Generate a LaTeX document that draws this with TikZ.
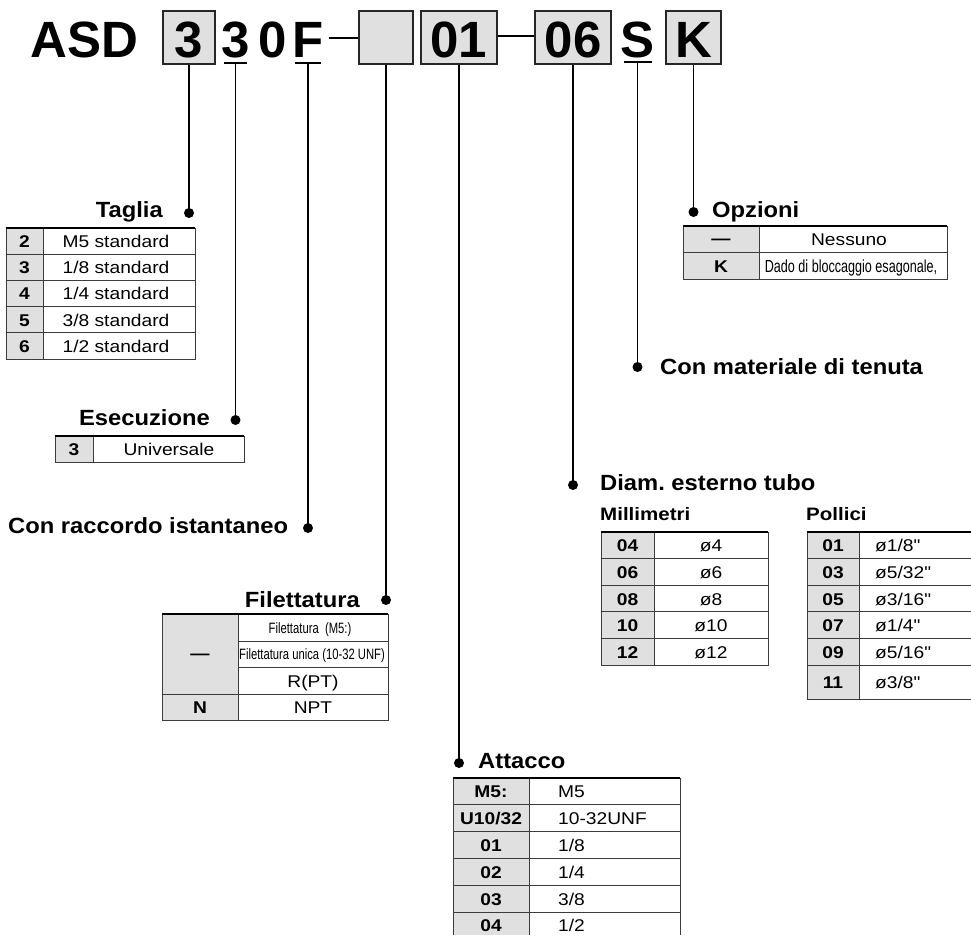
\documentclass[tikz,border=0pt]{standalone}
\usepackage{fontspec}
\setmainfont{Liberation Sans}
\newfontfamily\hfont[FakeStretch=1.08]{Liberation Sans}
\newfontfamily\sfont[FakeStretch=1.14]{Liberation Sans}
\newfontfamily\bfont[FakeStretch=1.13]{Liberation Sans}
\newfontfamily\cfont[FakeStretch=0.75]{Liberation Sans}
\newfontfamily\dfont[FakeStretch=0.72]{Liberation Sans}
\definecolor{keygray}{RGB}{224,224,224}
\definecolor{rulec}{RGB}{60,60,60}
\frenchspacing
\begin{document}
\begin{tikzpicture}[x=1pt,y=-1pt,
  titletxt/.style={font=\fontsize{51}{51}\selectfont\bfseries, inner sep=0pt, anchor=base},
  tbox/.style={titletxt, draw=black!85, line width=1.6pt, fill=keygray, text height=46pt, text depth=7pt},
  head/.style={font=\hfont\fontsize{22}{22}\selectfont\bfseries, inner sep=0pt},
  subhead/.style={font=\sfont\fontsize{18}{18}\selectfont\bfseries, inner sep=0pt},
  keytxt/.style={font=\bfont\fontsize{17}{17}\selectfont\bfseries, inner sep=0pt, anchor=base},
  valtxt/.style={font=\bfont\fontsize{17}{17}\selectfont, inner sep=0pt, anchor=base},
  valleft/.style={valtxt, anchor=base west},
  condtxt/.style={font=\cfont\fontsize{15}{15}\selectfont, inner sep=0pt, anchor=base},
  dadotxt/.style={font=\dfont\fontsize{17.5}{17.5}\selectfont, inner sep=0pt, anchor=base},
  conn/.style={line width=1.8pt, black},
  gridl/.style={draw=rulec, line width=1pt},
  topl/.style={draw=black, line width=1.8pt},
]
\useasboundingbox (0,0) rectangle (971,935);
\fill[white] (0,0) rectangle (971,935);

% ---------------- title ----------------
\node[titletxt, anchor=base west] (asd) at (30,57) {ASD};
\node[tbox, minimum width=52pt] (b3) at (189,57) {3};
\node[titletxt] (c3) at (235.5,57) {3};
\node[titletxt] (c0) at (273,57) {0};
\node[titletxt] (cF) at (308,57) {F};
\node[tbox, minimum width=54pt] (bx) at (386,57) {};
\node[tbox, minimum width=76pt] (b01) at (459,57) {01};
\node[tbox, minimum width=76pt] (b06) at (573,57) {06};
\node[titletxt] (cS) at (637.5,57) {S};
\node[tbox, minimum width=55pt] (bK) at (693.5,57) {K};

\coordinate (dash1) at (329,38);
\draw[conn, line width=2.2pt] (dash1) -- (dash1 -| bx.west);
\coordinate (dash2) at (0,36);
\draw[conn, line width=2.2pt] (b01.east |- dash2) -- (b06.west |- dash2);

\coordinate (u3a) at (224,63);  \coordinate (u3b) at (247,63);
\coordinate (uFa) at (295,63);  \coordinate (uFb) at (321,63);
\coordinate (uSa) at (624,62);  \coordinate (uSb) at (652,62);
\draw[conn] (u3a) -- (u3b);
\draw[conn] (uFa) -- (uFb);
\draw[conn] (uSa) -- (uSb);

% dot levels
\coordinate (pT) at (0,213);
\coordinate (pE) at (0,420);
\coordinate (pC) at (0,528);
\coordinate (pF) at (0,600);
\coordinate (pA) at (0,763);
\coordinate (pD) at (0,485);
\coordinate (pM) at (0,367);
\coordinate (pO) at (0,212);

\draw[conn] (b3.south) -- (b3.south |- pT);
\fill (b3.south |- pT) circle (5);
\draw[conn] (c3 |- u3a) -- (c3 |- pE);
\fill (c3 |- pE) circle (5);
\draw[conn] (cF |- uFa) -- (cF |- pC);
\fill (cF |- pC) circle (5);
\draw[conn] (bx.south) -- (bx.south |- pF);
\fill (bx.south |- pF) circle (5);
\draw[conn] (b01.south) -- (b01.south |- pA);
\fill (b01.south |- pA) circle (5);
\draw[conn] (b06.south) -- (b06.south |- pD);
\fill (b06.south |- pD) circle (5);
\draw[conn] (cS |- uSa) -- (cS |- pM);
\fill (cS |- pM) circle (5);
\draw[conn] (bK.south) -- (bK.south |- pO);
\fill (bK.south |- pO) circle (5);

% ---------------- headings ----------------
\node[head, anchor=base east] (hT) at (163,217) {Taglia};
\node[head, anchor=base east] (hE) at (210,425) {Esecuzione};
\node[head, anchor=base west] (hO) at (712,217) {Opzioni};
\node[head, anchor=base west] (hM) at (660,374) {Con materiale di tenuta};
\node[head, anchor=base west] (hC) at (8,533) {Con raccordo istantaneo};
\node[head, anchor=base east] (hF) at (360,607) {Filettatura};
\node[head, anchor=base west] (hD) at (600,490) {Diam. esterno tubo};
\node[subhead, anchor=base west] (hMm) at (600,520) {Millimetri};
\node[subhead, anchor=base west] (hP) at (806,520) {Pollici};
\node[head, anchor=base west] (hA) at (478,768) {Attacco};

% ---------------- Taglia table ----------------
\fill[keygray] (6,228) rectangle (43,359);
\foreach \i in {1,...,4} \draw[gridl] (6,{228+26.2*\i}) -- (195,{228+26.2*\i});
\draw[gridl] (6,228) rectangle (195,359);
\draw[gridl] (43,228) -- (43,359);
\draw[topl] (6,228) -- (195,228);
\foreach \k/\v [count=\i from 0] in {2/{M5 standard},3/{1/8 standard},4/{1/4 standard},5/{3/8 standard},6/{1/2 standard}} {
  \node[keytxt] (tgk\i) at (24.5,{228+26.2*\i+19.5}) {\k};
  \node[valtxt] (tgv\i) at (116,{228+26.2*\i+19.5}) {\v};
}

% ---------------- Esecuzione table ----------------
\fill[keygray] (55,436) rectangle (93,462);
\draw[gridl] (55,436) rectangle (244,462);
\draw[gridl] (93,436) -- (93,462);
\draw[topl] (55,436) -- (244,436);
\node[keytxt] (esk) at (74,455.5) {3};
\node[valtxt] (esv) at (169,455.5) {Universale};

% ---------------- Opzioni table ----------------
\fill[keygray] (683,226) rectangle (759,279);
\draw[gridl] (683,226) rectangle (947,279);
\draw[gridl] (683,252) -- (947,252);
\draw[gridl] (759,226) -- (759,279);
\draw[topl] (683,226) -- (947,226);
\node[keytxt] (opk1) at (721,244) {—};
\node[valtxt] (opv1) at (849,245.5) {Nessuno};
\node[keytxt] (opk2) at (721,272) {K};
\node[dadotxt] (opv2) at (851,272) {Dado di bloccaggio esagonale,};

% ---------------- Filettatura table ----------------
\fill[keygray] (162,614) rectangle (238,720);
\draw[gridl] (162,614) rectangle (388,720);
\draw[gridl] (238,641) -- (388,641);
\draw[gridl] (238,667) -- (388,667);
\draw[gridl] (162,694) -- (388,694);
\draw[gridl] (238,614) -- (238,720);
\draw[topl] (162,614) -- (388,614);
\node[keytxt] (fik1) at (200,659) {—};
\node[condtxt] (fiv1) at (310,633.5) {Filettatura\ \ (M5:)};
\node[condtxt] (fiv2) at (312,659.5) {Filettatura unica (10-32 UNF)};
\node[valtxt] (fiv3) at (313,687) {R(PT)};
\node[keytxt] (fik2) at (200,713.5) {N};
\node[valtxt] (fiv4) at (313,713.5) {NPT};

% ---------------- Millimetri table ----------------
\fill[keygray] (601,532) rectangle (654,665);
\foreach \i in {1,...,4} \draw[gridl] (601,{532+26.6*\i}) -- (768,{532+26.6*\i});
\draw[gridl] (601,532) rectangle (768,665);
\draw[gridl] (654,532) -- (654,665);
\draw[topl] (601,532) -- (768,532);
\foreach \k/\v [count=\i from 0] in {04/ø4,06/ø6,08/ø8,10/ø10,12/ø12} {
  \node[keytxt] (mmk\i) at (627.5,{532+26.6*\i+19.8}) {\k};
  \node[valtxt] (mmv\i) at (711,{532+26.6*\i+19.8}) {\v};
}

% ---------------- Pollici table ----------------
\fill[keygray] (807,532) rectangle (859,699);
\foreach \i in {1,...,5} \draw[gridl] (807,{532+26.6*\i}) -- (971,{532+26.6*\i});
\draw[gridl] (971,699) -- (807,699) -- (807,532);
\draw[gridl] (859,532) -- (859,699);
\draw[topl] (807,532) -- (971,532);
\foreach \k/\v [count=\i from 0] in {01/{ø1/8"},03/{ø5/32"},05/{ø3/16"},07/{ø1/4"},09/{ø5/16"}} {
  \node[keytxt] (pok\i) at (833,{532+26.6*\i+19.8}) {\k};
  \node[valleft] (pov\i) at (875,{532+26.6*\i+19.8}) {\v};
}
\node[keytxt] (pok5) at (833,688) {11};
\node[valleft] (pov5) at (875,688) {ø3/8"};

% ---------------- Attacco table ----------------
\fill[keygray] (453,778) rectangle (529,935);
\foreach \i in {1,...,5} \draw[gridl] (453,{778+26.8*\i}) -- (680,{778+26.8*\i});
\draw[gridl] (453,935) -- (453,778) -- (680,778) -- (680,935);
\draw[gridl] (529,778) -- (529,935);
\draw[topl] (453,778) -- (680,778);
\foreach \k/\v [count=\i from 0] in {M5:/M5,{U10/32}/10-32UNF,01/{1/8},02/{1/4},03/{3/8},04/{1/2}} {
  \node[keytxt] (atk\i) at (491,{778+26.8*\i+19.8}) {\k};
  \node[valleft] (atv\i) at (558,{778+26.8*\i+19.8}) {\v};
}
\end{tikzpicture}
\end{document}
